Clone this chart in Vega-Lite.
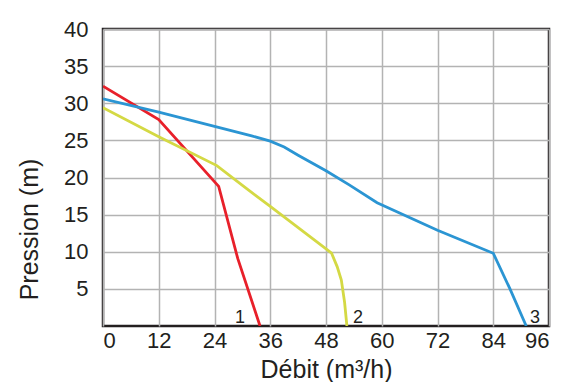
{
  "$schema": "https://vega.github.io/schema/vega-lite/v6.json",
  "width": 446,
  "height": 297,
  "autosize": "none",
  "padding": {"left": 103, "top": 29, "right": 16, "bottom": 56},
  "background": "white",
  "config": {
    "view": {"stroke": "#231f20", "strokeWidth": 2.5},
    "font": "Liberation Sans",
    "axis": {
      "grid": true,
      "gridColor": "#b3b3b3",
      "gridWidth": 1.5,
      "gridOpacity": 1,
      "domain": false,
      "ticks": false,
      "labelFont": "Liberation Sans",
      "labelFontSize": 22,
      "labelColor": "#231f20",
      "titleFont": "Liberation Sans",
      "titleFontSize": 25,
      "titleFontWeight": "normal",
      "titleColor": "#231f20"
    }
  },
  "datasets": {
    "curves": [
      {"pump": "1", "debit": 0, "pression": 32.3},
      {"pump": "1", "debit": 12, "pression": 27.8},
      {"pump": "1", "debit": 24.9, "pression": 18.8},
      {"pump": "1", "debit": 29.0, "pression": 9.1},
      {"pump": "1", "debit": 33.8, "pression": 0},
      {"pump": "2", "debit": 0, "pression": 29.4},
      {"pump": "2", "debit": 12, "pression": 25.5},
      {"pump": "2", "debit": 24.5, "pression": 21.6},
      {"pump": "2", "debit": 30.5, "pression": 18.7},
      {"pump": "2", "debit": 36, "pression": 16.1},
      {"pump": "2", "debit": 47.8, "pression": 10.5},
      {"pump": "2", "debit": 49.2, "pression": 9.8},
      {"pump": "2", "debit": 50.4, "pression": 8.0},
      {"pump": "2", "debit": 51.3, "pression": 6.2},
      {"pump": "2", "debit": 52.0, "pression": 3.2},
      {"pump": "2", "debit": 52.5, "pression": 0},
      {"pump": "3", "debit": 0, "pression": 30.6},
      {"pump": "3", "debit": 12, "pression": 28.8},
      {"pump": "3", "debit": 24, "pression": 26.9},
      {"pump": "3", "debit": 32, "pression": 25.6},
      {"pump": "3", "debit": 36, "pression": 24.9},
      {"pump": "3", "debit": 39, "pression": 24.1},
      {"pump": "3", "debit": 42, "pression": 23.0},
      {"pump": "3", "debit": 48, "pression": 20.9},
      {"pump": "3", "debit": 53, "pression": 19.0},
      {"pump": "3", "debit": 59, "pression": 16.6},
      {"pump": "3", "debit": 72, "pression": 12.9},
      {"pump": "3", "debit": 84, "pression": 9.8},
      {"pump": "3", "debit": 87.6, "pression": 5.0},
      {"pump": "3", "debit": 91.1, "pression": 0}
    ],
    "labels": [
      {"pump": "1", "debit": 29.5, "pression": 0.4},
      {"pump": "2", "debit": 54.9, "pression": 0.4},
      {"pump": "3", "debit": 93.0, "pression": 0.4}
    ]
  },
  "layer": [
    {
      "data": {"name": "curves"},
      "mark": {"type": "line", "strokeWidth": 2.8, "clip": true},
      "encoding": {
        "x": {
          "field": "debit",
          "type": "quantitative",
          "scale": {"domain": [0, 96], "nice": false, "zero": false},
          "axis": {
            "values": [0, 12, 24, 36, 48, 60, 72, 84, 96],
            "labelPadding": 4,
            "title": "Débit (m³/h)",
            "titleBaseline": "alphabetic",
            "titleY": 51
          }
        },
        "y": {
          "field": "pression",
          "type": "quantitative",
          "scale": {"domain": [0, 40], "nice": false, "zero": false},
          "axis": {
            "values": [5, 10, 15, 20, 25, 30, 35, 40],
            "labelPadding": 15,
            "title": "Pression (m)",
            "titleAngle": -90,
            "titleAlign": "center",
            "titleBaseline": "alphabetic",
            "titleX": -66,
            "titleY": 200
          }
        },
        "color": {
          "field": "pump",
          "type": "nominal",
          "scale": {"domain": ["1", "2", "3"], "range": ["#e8202a", "#d4d944", "#2b95d3"]},
          "legend": null
        }
      }
    },
    {
      "data": {"name": "labels"},
      "mark": {"type": "text", "fontSize": 18, "baseline": "alphabetic", "align": "center", "color": "#231f20", "font": "Liberation Sans"},
      "encoding": {
        "x": {"field": "debit", "type": "quantitative"},
        "y": {"field": "pression", "type": "quantitative"},
        "text": {"field": "pump"}
      }
    }
  ]
}
